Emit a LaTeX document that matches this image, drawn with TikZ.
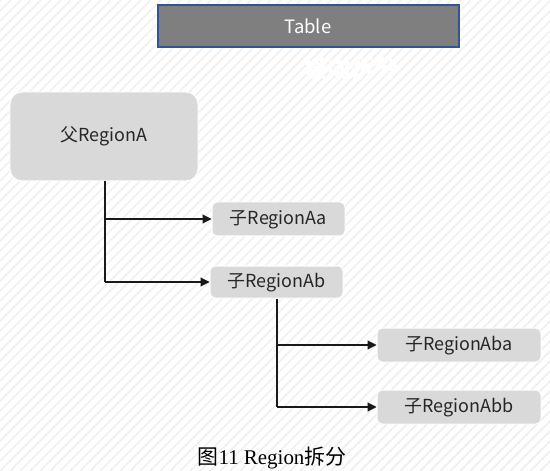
\documentclass[tikz,border=0pt]{standalone}
\usepackage{fontspec}
\setmainfont{Liberation Serif}
\newfontfamily\cjk{Noto Sans CJK SC}
\usetikzlibrary{arrows.meta}
\definecolor{boxgray}{HTML}{D9D9D9}
\definecolor{hatchgray}{HTML}{EDEDED}
\definecolor{tblgray}{HTML}{7F7F7F}
\definecolor{tblblue}{HTML}{2F5597}
\definecolor{txt}{HTML}{262626}
\tikzset{
  hatch/.style={draw=hatchgray, line width=1.4bp},
  box/.style={fill=boxgray, draw=white, line width=1bp, rounded corners=5bp,
    font=\cjk\fontsize{18}{21}\selectfont, text=txt, inner sep=0pt, align=center,
    text height=13bp, text depth=2bp},
  conn/.style={draw=black!90, line width=1.1bp, -{Triangle[length=9bp,width=9bp]}},
  plain/.style={draw=black!90, line width=1.1bp},
}
\begin{document}
\begin{tikzpicture}[x=1bp,y=-1bp]
\useasboundingbox (0,0) rectangle (550,471);
\fill[white] (0,0) rectangle (550,471);
\begin{scope}
\clip (0,0) rectangle (550,471);
\foreach \i in {-480,-470,...,560} \draw[hatch] (\i,471) -- (\i+471,0);
\end{scope}

\node[fill=tblgray, draw=tblblue, line width=2bp, minimum width=301bp, minimum height=42bp,
  inner sep=0pt, text=white, font=\cjk\fontsize{18.5}{21}\selectfont] (tbl) at (308,26.5) {Table};
\node[text=white, font=\cjk\bfseries\fontsize{24}{26}\selectfont, inner sep=0pt] (hlabel) at (351,68) {横向拆分};

\node[box, rounded corners=12bp, minimum width=188bp, minimum height=89bp] (A) at (104,136.5) {父RegionA};
\node[box, minimum width=133bp, minimum height=34bp] (Aa) at (278.5,219) {子RegionAa};
\node[box, minimum width=133bp, minimum height=32bp] (Ab) at (276.5,282) {子RegionAb};
\node[box, minimum width=164bp, minimum height=34bp] (Aba) at (459,345) {子RegionAba};
\node[box, minimum width=164bp, minimum height=34bp] (Abb) at (459,407) {子RegionAbb};

\coordinate (a1) at ([xshift=1bp]A.south);
\coordinate (b1) at ([xshift=0.5bp]Ab.south);
\draw[plain] (a1) -- (a1 |- Ab.west);
\draw[conn] (a1 |- Aa.west) -- (Aa.west);
\draw[conn] (a1 |- Ab.west) -- (Ab.west);
\draw[plain] (b1) -- (b1 |- Abb.west);
\draw[conn] (b1 |- Aba.west) -- (Aba.west);
\draw[conn] (b1 |- Abb.west) -- (Abb.west);

\node[font=\fontsize{21}{23}\selectfont, inner sep=0pt] (cap) at (272,458) {{\cjk 图}11 Region{\cjk 拆分}};
\end{tikzpicture}
\end{document}
